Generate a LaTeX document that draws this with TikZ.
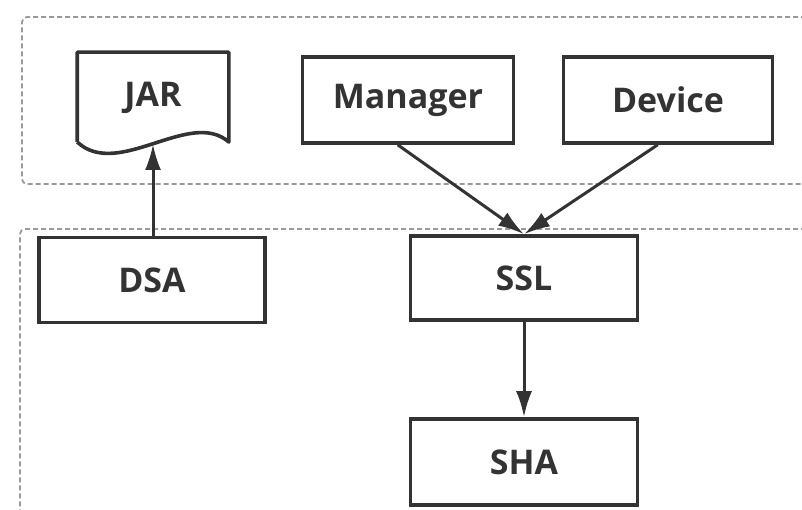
\documentclass[tikz,border=0pt]{standalone}
\usepackage{fontspec}
\setmainfont{Open Sans}
\usetikzlibrary{arrows.meta}
\definecolor{ink}{HTML}{333333}
\definecolor{frame}{HTML}{9A9A9A}
\tikzset{
  box/.style={draw=ink, line width=3.6pt, minimum width=#1, inner sep=0pt,
              font=\fontsize{34}{34}\selectfont\bfseries, text=ink},
  group/.style={draw=frame, line width=1.8pt, dash pattern=on 5pt off 3pt, rounded corners=5pt},
  flow/.style={draw=ink, line width=3pt, -{Latex[length=26pt,width=16pt]}}
}
\begin{document}
\begin{tikzpicture}[x=1pt,y=-1pt]
  \useasboundingbox (0,0) rectangle (802,510);
  % dashed group frames
  \draw[group] (830,17) -- (22,17) -- (22,184) -- (830,184);
  \draw[group] (830,229) -- (20,229) -- (20,530);
  % top row
  \node[box=148pt, draw=none, minimum height=88pt] (jar) at (153,98) {JAR};
  \draw[ink, line width=3.6pt, line join=round]
    (jar.west |- 0,142) -- (jar.north west) -- (jar.north east) -- (jar.east |- 0,142)
    .. controls (190,108) and (118,180) .. (jar.west |- 0,142);
  \coordinate (jarwave) at (153,144);
  \node[box=211pt, minimum height=86pt] (manager) at (408,100) {Manager};
  \node[box=209pt, minimum height=86pt] (device) at (668,100) {Device};
  % bottom row
  \node[box=226pt, minimum height=85pt] (dsa) at (152,280) {DSA};
  \node[box=227pt, minimum height=84pt] (ssl) at (524,278) {SSL};
  \node[box=227pt, minimum height=86pt] (sha) at (524,462) {SHA};
  % connectors
  \draw[flow] (dsa.north -| jarwave) -- (jarwave);
  \draw[flow] (manager.south west) ++(97,0) coordinate (m0) (m0) -- (ssl.north);
  \draw[flow] (device.south west) ++(96,0) coordinate (d0) (d0) -- (ssl.north);
  \draw[flow] (ssl) -- (sha);
\end{tikzpicture}
\end{document}
